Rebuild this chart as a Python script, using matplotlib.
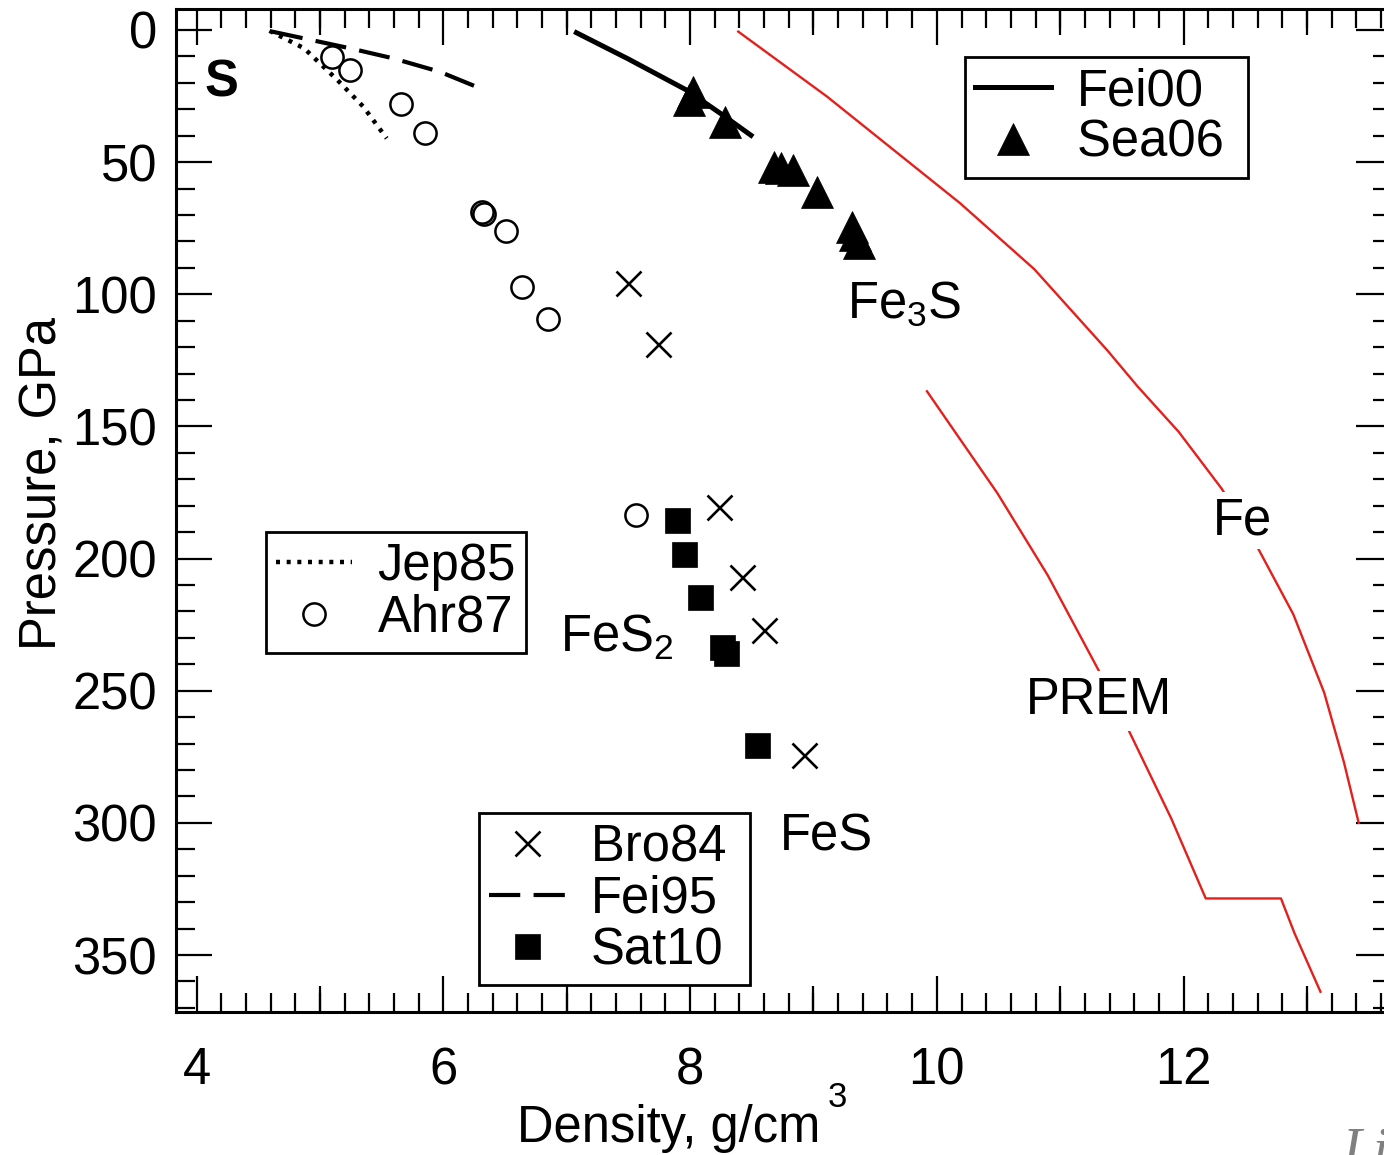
import numpy as np
import matplotlib
matplotlib.use("Agg")
import matplotlib.pyplot as plt
from matplotlib.lines import Line2D
from matplotlib.ticker import MultipleLocator, NullLocator

plt.rcParams['font.family'] = ['Liberation Sans', 'DejaVu Sans']
plt.rcParams['mathtext.fontset'] = 'custom'
plt.rcParams['mathtext.rm'] = 'Liberation Sans'
plt.rcParams['mathtext.default'] = 'regular'

# --- data (density g/cm3, pressure GPa) ---
fei00_rho = [7.06, 7.50, 7.97, 8.25, 8.51]
fei00_p = [0.6, 11.0, 22.7, 31.7, 40.4]

sea06_rho = [7.99, 8.02, 8.28, 8.68, 8.74, 8.83, 9.03, 9.31, 9.34, 9.37]
sea06_p = [26.5, 23.3, 34.7, 51.7, 52.3, 53.0, 61.2, 74.4, 77.6, 80.7]

fei95_rho = [4.61, 5.24, 5.59, 5.97, 6.30]
fei95_p = [0.6, 6.9, 10.7, 15.8, 22.1]

jep85_rho = [4.59, 4.87, 5.14, 5.35, 5.54]
jep85_p = [0.3, 6.9, 18.9, 29.0, 41.0]

ahr87_rho = [5.10, 5.24, 5.66, 5.85, 6.31, 6.33, 6.51, 6.64, 6.85, 7.56]
ahr87_p = [10.1, 15.1, 28.0, 39.1, 69.0, 69.6, 76.1, 97.1, 109.5, 183.5]

bro84_rho = [7.50, 7.74, 8.23, 8.42, 8.60, 8.92]
bro84_p = [95.9, 118.8, 180.4, 206.8, 227.0, 274.3]

sat10_rho = [7.89, 7.95, 8.08, 8.26, 8.29, 8.54]
sat10_p = [185.4, 198.4, 214.4, 233.3, 235.8, 270.5]

fe_rho = [8.39, 9.11, 9.65, 10.19, 10.79, 11.38, 11.63, 11.96, 12.31, 12.59,
          12.89, 13.14, 13.30, 13.42]
fe_p = [0.6, 25.2, 45.4, 65.6, 90.5, 121.1, 135.0, 152.0, 173.6, 194.9,
        221.1, 250.7, 277.0, 300.0]

prem_rho = [9.92, 10.21, 10.49, 10.90, 11.40, 11.90, 12.18, 12.79, 12.90, 13.11]
prem_p = [136.7, 156.3, 175.2, 206.4, 250.0, 298.3, 328.6, 328.6, 341.8, 363.9]

FS = 36.5
RED = '#e3201c'

# figure laid out in pixels like the original (1384 x 1155)
W, H = 1384, 1155
fig = plt.figure(figsize=(W / 100, H / 100), dpi=100)
ax_l, ax_r, ax_t, ax_b = 176, 1392, 9.3, 1011.7
ax = fig.add_axes([ax_l / W, 1 - ax_b / H, (ax_r - ax_l) / W, (ax_b - ax_t) / H])

# curves
ax.plot(fe_rho, fe_p, color=RED, lw=1.7, zorder=2)
ax.plot(prem_rho, prem_p, color=RED, lw=1.7, zorder=2)
ax.plot(fei00_rho, fei00_p, color='k', lw=3.6, solid_capstyle='butt', zorder=3)
ax.plot(fei95_rho, fei95_p, color='k', lw=3.0, dashes=(7.5, 3.2), zorder=3)
ax.plot(jep85_rho, jep85_p, color='k', lw=3.2, dashes=(0.9, 1.5), zorder=3)

# points
ax.plot(ahr87_rho, ahr87_p, ls='none', marker='o', ms=16, mfc='none', mec='k', mew=1.8, zorder=4)
ax.plot(bro84_rho, bro84_p, ls='none', marker='x', ms=18, mec='k', mew=1.9, zorder=4)
ax.plot(sat10_rho, sat10_p, ls='none', marker='s', ms=18, mfc='k', mec='k', mew=0.5, zorder=4)
ax.plot(sea06_rho, sea06_p, ls='none', marker='^', ms=23, mfc='k', mec='k', mew=0.5, zorder=4)

ax.set_xlim(3.832, 13.69)
ax.set_ylim(371.45, -7.83)

# ticks: in, on all sides
ax.xaxis.set_major_locator(MultipleLocator(2))
ax.xaxis.set_minor_locator(MultipleLocator(0.2))
ax.yaxis.set_major_locator(MultipleLocator(50))
ax.yaxis.set_minor_locator(MultipleLocator(10))
ax.tick_params(which='both', direction='in', top=True, right=True, width=1.6)
ax.tick_params(which='major', length=26, labelsize=FS)
ax.tick_params(which='minor', length=13.5)
ax.tick_params(axis='x', which='major', pad=25)
ax.tick_params(axis='y', which='major', pad=13.5)
for s in ax.spines.values():
    s.set_linewidth(2.2)

# medium ticks at odd densities, top and bottom
for side in ('bottom', 'top'):
    sec = ax.secondary_xaxis(side)
    sec.set_xticks([5, 7, 9, 11, 13])
    sec.xaxis.set_minor_locator(NullLocator())
    sec.tick_params(direction='in', length=19, width=1.6,
                    labelbottom=False, labeltop=False)
    sec.spines[side].set_visible(False)


# axis titles placed like the original
def fx(px):
    return px / W


def fy(py):
    return 1 - py / H


fig.text(fx(57), fy(483), 'Pressure, GPa', fontsize=FS, rotation=90,
         rotation_mode='anchor', ha='center', va='baseline')
fig.text(fx(517), fy(1142), 'Density, g/cm', fontsize=FS, ha='left', va='baseline')
fig.text(fx(828), fy(1107), '3', fontsize=25, ha='left', va='baseline')
fig.text(fx(1343), fy(1167), 'Li', fontsize=40, color='#808080',
         family='Liberation Serif', style='italic', ha='left', va='baseline')

# labels inside
ax.text(4.067, 25.35, 'S', fontsize=FS, fontweight='bold', ha='left', va='baseline')
ax.text(9.274, 109.0, 'Fe$_3$S', fontsize=FS, ha='left', va='baseline')
ax.text(6.947, 235.2, 'FeS$_2$', fontsize=FS, ha='left', va='baseline')
ax.text(8.731, 310.3, 'FeS', fontsize=FS, ha='left', va='baseline')
ax.text(12.24, 190.8, 'Fe', fontsize=FS, ha='left', va='baseline', zorder=5,
        bbox=dict(facecolor='white', edgecolor='none', pad=3))
ax.text(10.721, 258.9, 'PREM', fontsize=FS, ha='left', va='baseline', zorder=5,
        bbox=dict(facecolor='white', edgecolor='none', pad=4))

# legends
leg_kw = dict(loc='upper left', borderaxespad=0, frameon=True, fancybox=False,
              edgecolor='k', framealpha=1, fontsize=FS, handlelength=1.5,
              handletextpad=0.5, borderpad=0.2, labelspacing=0.05, numpoints=1)


def axfrac(px, py):
    return ((px - ax_l) / (ax_r - ax_l), 1 - (py - ax_t) / (ax_b - ax_t))


h_fei00 = Line2D([], [], color='k', lw=3.6)
h_sea06 = Line2D([], [], ls='none', marker='^', ms=23, mfc='k', mec='k', mew=0.5)
leg1 = ax.legend([h_fei00, h_sea06], ['Fei00', 'Sea06 '],
                 bbox_to_anchor=axfrac(965, 57), **leg_kw)
leg1.get_frame().set_linewidth(2)
ax.add_artist(leg1)

h_jep85 = Line2D([], [], color='k', lw=3.2, dashes=(0.9, 1.5))
h_ahr87 = Line2D([], [], ls='none', marker='o', ms=16, mfc='none', mec='k', mew=1.8)
leg2 = ax.legend([h_jep85, h_ahr87], ['Jep85', 'Ahr87'],
                 bbox_to_anchor=axfrac(266, 532), **leg_kw)
leg2.get_frame().set_linewidth(2)
ax.add_artist(leg2)

h_bro84 = Line2D([], [], ls='none', marker='x', ms=18, mec='k', mew=1.9)
h_fei95 = Line2D([], [], color='k', lw=3.0, dashes=(7.5, 3.2))
h_sat10 = Line2D([], [], ls='none', marker='s', ms=18, mfc='k', mec='k', mew=0.5)
leg3 = ax.legend([h_bro84, h_fei95, h_sat10], ['Bro84 ', 'Fei95', 'Sat10'],
                 bbox_to_anchor=axfrac(479, 813), **leg_kw)
leg3.get_frame().set_linewidth(2)

fig.savefig('out.png', dpi=100)
